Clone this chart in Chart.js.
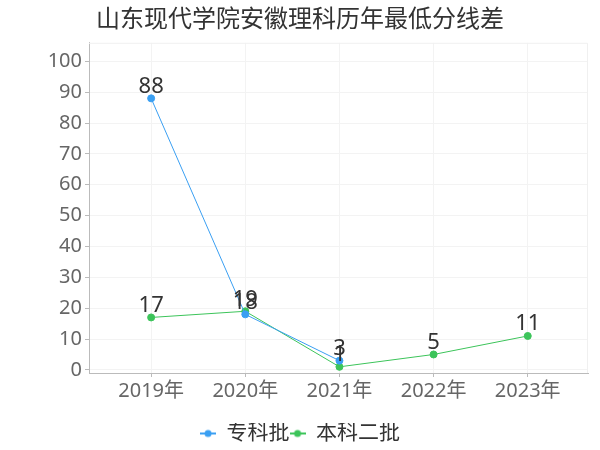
<!DOCTYPE html>
<html>
<head>
<meta charset="utf-8">
<script src="https://cdn.jsdelivr.net/npm/chart.js@4/dist/chart.umd.min.js"></script>
<style>
  html, body { margin: 0; padding: 0; background: #fff; }
  #wrap { width: 600px; height: 450px; }
</style>
</head>
<body>
<div id="wrap"><canvas id="c" width="600" height="450"></canvas></div>
<script>
// data
const years = ['2019年', '2020年', '2021年', '2022年', '2023年'];
const zhuanke = [88, 18, 3, null, null];
const benke2 = [17, 19, 1, 5, 11];
const yTicks = [0, 10, 20, 30, 40, 50, 60, 70, 80, 90, 100];

const FONT = '"Noto Sans", "Noto Sans CJK SC", sans-serif';
const BLUE = '#3a9ff2';
const GREEN = '#3cc45a';

// small line+dot marker for the legend
function marker(color) {
  const cv = document.createElement('canvas');
  cv.width = 16; cv.height = 10;
  const g = cv.getContext('2d');
  g.strokeStyle = color; g.lineWidth = 2;
  g.beginPath(); g.moveTo(0, 5); g.lineTo(16, 5); g.stroke();
  g.fillStyle = color;
  g.beginPath(); g.arc(8, 5, 3.5, 0, Math.PI * 2); g.fill();
  return cv;
}

// value labels over each point
const valueLabels = {
  id: 'valueLabels',
  afterDatasetsDraw(chart) {
    const ctx = chart.ctx;
    ctx.save();
    ctx.font = '22px ' + FONT;
    ctx.fillStyle = '#333';
    ctx.textAlign = 'center';
    ctx.textBaseline = 'bottom';
    chart.data.datasets.forEach((ds, i) => {
      chart.getDatasetMeta(i).data.forEach((pt, j) => {
        if (ds.data[j].y == null) return;
        ctx.fillText(String(ds.data[j].y), pt.x, pt.y - 1);
      });
    });
    ctx.restore();
  }
};

// faint frame on top and right of the plot
const frame = {
  id: 'frame',
  beforeDatasetsDraw(chart) {
    const a = chart.chartArea, ctx = chart.ctx;
    ctx.save();
    ctx.strokeStyle = '#f0f0f0';
    ctx.lineWidth = 1;
    ctx.beginPath();
    ctx.moveTo(a.left, a.top + 0.5); ctx.lineTo(a.right - 0.5, a.top + 0.5);
    ctx.lineTo(a.right - 0.5, a.bottom);
    ctx.stroke();
    ctx.restore();
  }
};

const toPts = arr => arr.map((v, i) => ({ x: i, y: v }));

new Chart(document.getElementById('c'), {
  type: 'line',
  data: {
    datasets: [{
      label: '专科批',
      data: toPts(zhuanke),
      borderColor: BLUE,
      backgroundColor: BLUE,
      borderWidth: 1,
      pointRadius: 3.5
    }, {
      label: '本科二批',
      data: toPts(benke2),
      borderColor: GREEN,
      backgroundColor: GREEN,
      borderWidth: 1,
      pointRadius: 3.5
    }]
  },
  options: {
    responsive: false,
    animation: false,
    layout: { padding: { left: 12, right: 12, top: 2, bottom: -4 } },
    plugins: {
      title: {
        display: true,
        text: '山东现代学院安徽理科历年最低分线差',
        color: '#333',
        font: { family: FONT, size: 24, weight: 'normal' },
        padding: { top: 4, bottom: 8 }
      },
      legend: {
        position: 'bottom',
        labels: {
          color: '#333',
          font: { family: FONT, size: 21 },
          usePointStyle: true,
          pointStyleWidth: 16,
          padding: 0,
          generateLabels(chart) {
            return chart.data.datasets.map((ds, i) => ({
              text: ds.label,
              pointStyle: marker(ds.borderColor),
              fillStyle: ds.borderColor,
              strokeStyle: ds.borderColor,
              lineWidth: 0,
              fontColor: '#333',
              hidden: false,
              datasetIndex: i
            }));
          }
        }
      },
      tooltip: { enabled: false }
    },
    scales: {
      x: {
        type: 'linear',
        min: -0.66,
        max: 4.64,
        afterBuildTicks(scale) { scale.ticks = years.map((_, i) => ({ value: i })); },
        afterFit(scale) { scale.height += 18; },
        ticks: {
          color: '#666',
          font: { family: FONT, size: 20 },
          padding: 2,
          callback: v => years[v]
        },
        grid: { color: '#f3f3f3', tickColor: '#bbb', tickLength: 4 },
        border: { color: '#bbb' }
      },
      y: {
        min: -1,
        max: 106,
        afterBuildTicks(scale) { scale.ticks = yTicks.map(v => ({ value: v })); },
        afterFit(scale) { scale.width = 77; },
        ticks: {
          color: '#666',
          font: { family: FONT, size: 20 },
          padding: 3
        },
        grid: { color: '#f3f3f3', tickColor: '#bbb', tickLength: 4 },
        border: { color: '#bbb' }
      }
    }
  },
  plugins: [valueLabels, frame]
});
</script>
</body>
</html>
